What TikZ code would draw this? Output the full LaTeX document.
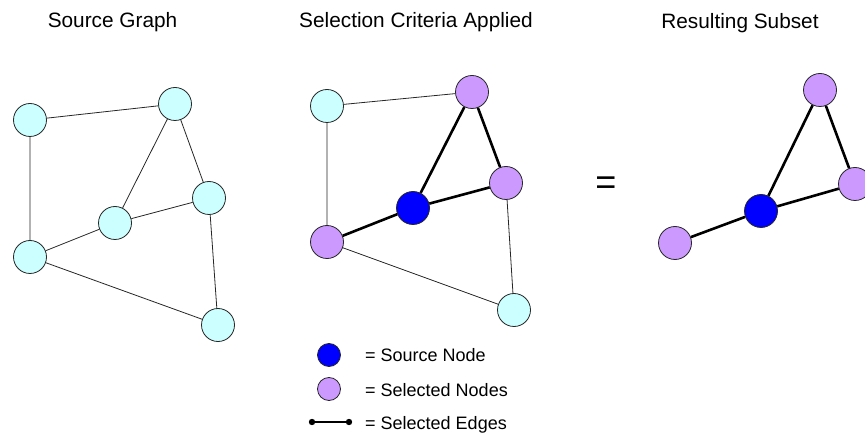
\documentclass[tikz,border=0pt]{standalone}
\usepackage{fontspec}
\setmainfont{Liberation Sans}
\begin{document}
\begin{tikzpicture}[x=1pt,y=-1pt,
  vtx/.style={circle,draw=black!85,line width=0.8pt,minimum size=33pt,inner sep=0pt},
  cyanv/.style={vtx,fill=cyanfill},
  purpv/.style={vtx,fill=purpfill},
  bluev/.style={vtx,fill=bluefill},
  thin edge/.style={draw=black!85,line width=0.8pt},
  thick edge/.style={draw=black,line width=2.6pt},
  ttl/.style={font=\fontsize{20.8}{24}\selectfont,inner sep=0pt,anchor=base},
  lgd/.style={font=\fontsize{18}{20}\selectfont,inner sep=0pt,anchor=base west}]
\definecolor{cyanfill}{HTML}{CCFFFF}
\definecolor{purpfill}{HTML}{CC99FF}
\definecolor{bluefill}{HTML}{0000FF}
\useasboundingbox (0,0) rectangle (865,438);
\clip (0,0) rectangle (865,438);

% titles
\node[ttl] (t1) at (112.5,27.5) {Source Graph};
\node[ttl] (t2) at (416,27.5) {Selection Criteria Applied};
\node[ttl] (t3) at (740,28.5) {Resulting Subset};

% left graph
\node[cyanv] (a1) at (30,120) {};
\node[cyanv] (b1) at (175,104) {};
\node[cyanv] (c1) at (209,198) {};
\node[cyanv] (d1) at (115,223) {};
\node[cyanv] (e1) at (30,257) {};
\node[cyanv] (f1) at (218,325) {};
\path[thin edge] (a1)--(b1) (a1)--(e1) (b1)--(d1) (b1)--(c1) (d1)--(c1) (e1)--(d1) (e1)--(f1) (c1)--(f1);

% middle graph
\node[cyanv] (a2) at (327,106) {};
\node[purpv] (b2) at (472,92) {};
\node[purpv] (c2) at (506,183) {};
\node[bluev] (d2) at (413,208) {};
\node[purpv] (e2) at (327,242) {};
\node[cyanv] (f2) at (514,310) {};
\path[thin edge] (a2)--(b2) (a2)--(e2) (e2)--(f2) (c2)--(f2);
\path[thick edge] (b2)--(d2) (b2)--(c2) (d2)--(c2) (e2)--(d2);

% equals
\node[font=\fontsize{36}{40}\selectfont,inner sep=0pt] (eq) at (606,185.5) {=};

% right graph
\node[purpv] (b3) at (820,90) {};
\node[purpv] (c3) at (855,184) {};
\node[bluev] (d3) at (761,211) {};
\node[purpv] (e3) at (675,243) {};
\path[thick edge] (b3)--(d3) (b3)--(c3) (d3)--(c3) (e3)--(d3);

% legend
\node[vtx,fill=bluefill,minimum size=23pt] (l1) at (329,355) {};
\node[vtx,fill=purpfill,minimum size=23pt] (l2) at (329,389) {};
\node[lgd] (lt1) at (365,362) {= Source Node};
\node[lgd] (lt2) at (365,396) {= Selected Nodes};
\node[lgd] (lt3) at (365,429) {= Selected Edges};
\coordinate (le1) at (312,422);
\coordinate (le2) at (349,422);
\draw[line width=1.6pt] (le1)--(le2);
\fill (le1) circle (3.2pt) (le2) circle (3.2pt);
\end{tikzpicture}
\end{document}
